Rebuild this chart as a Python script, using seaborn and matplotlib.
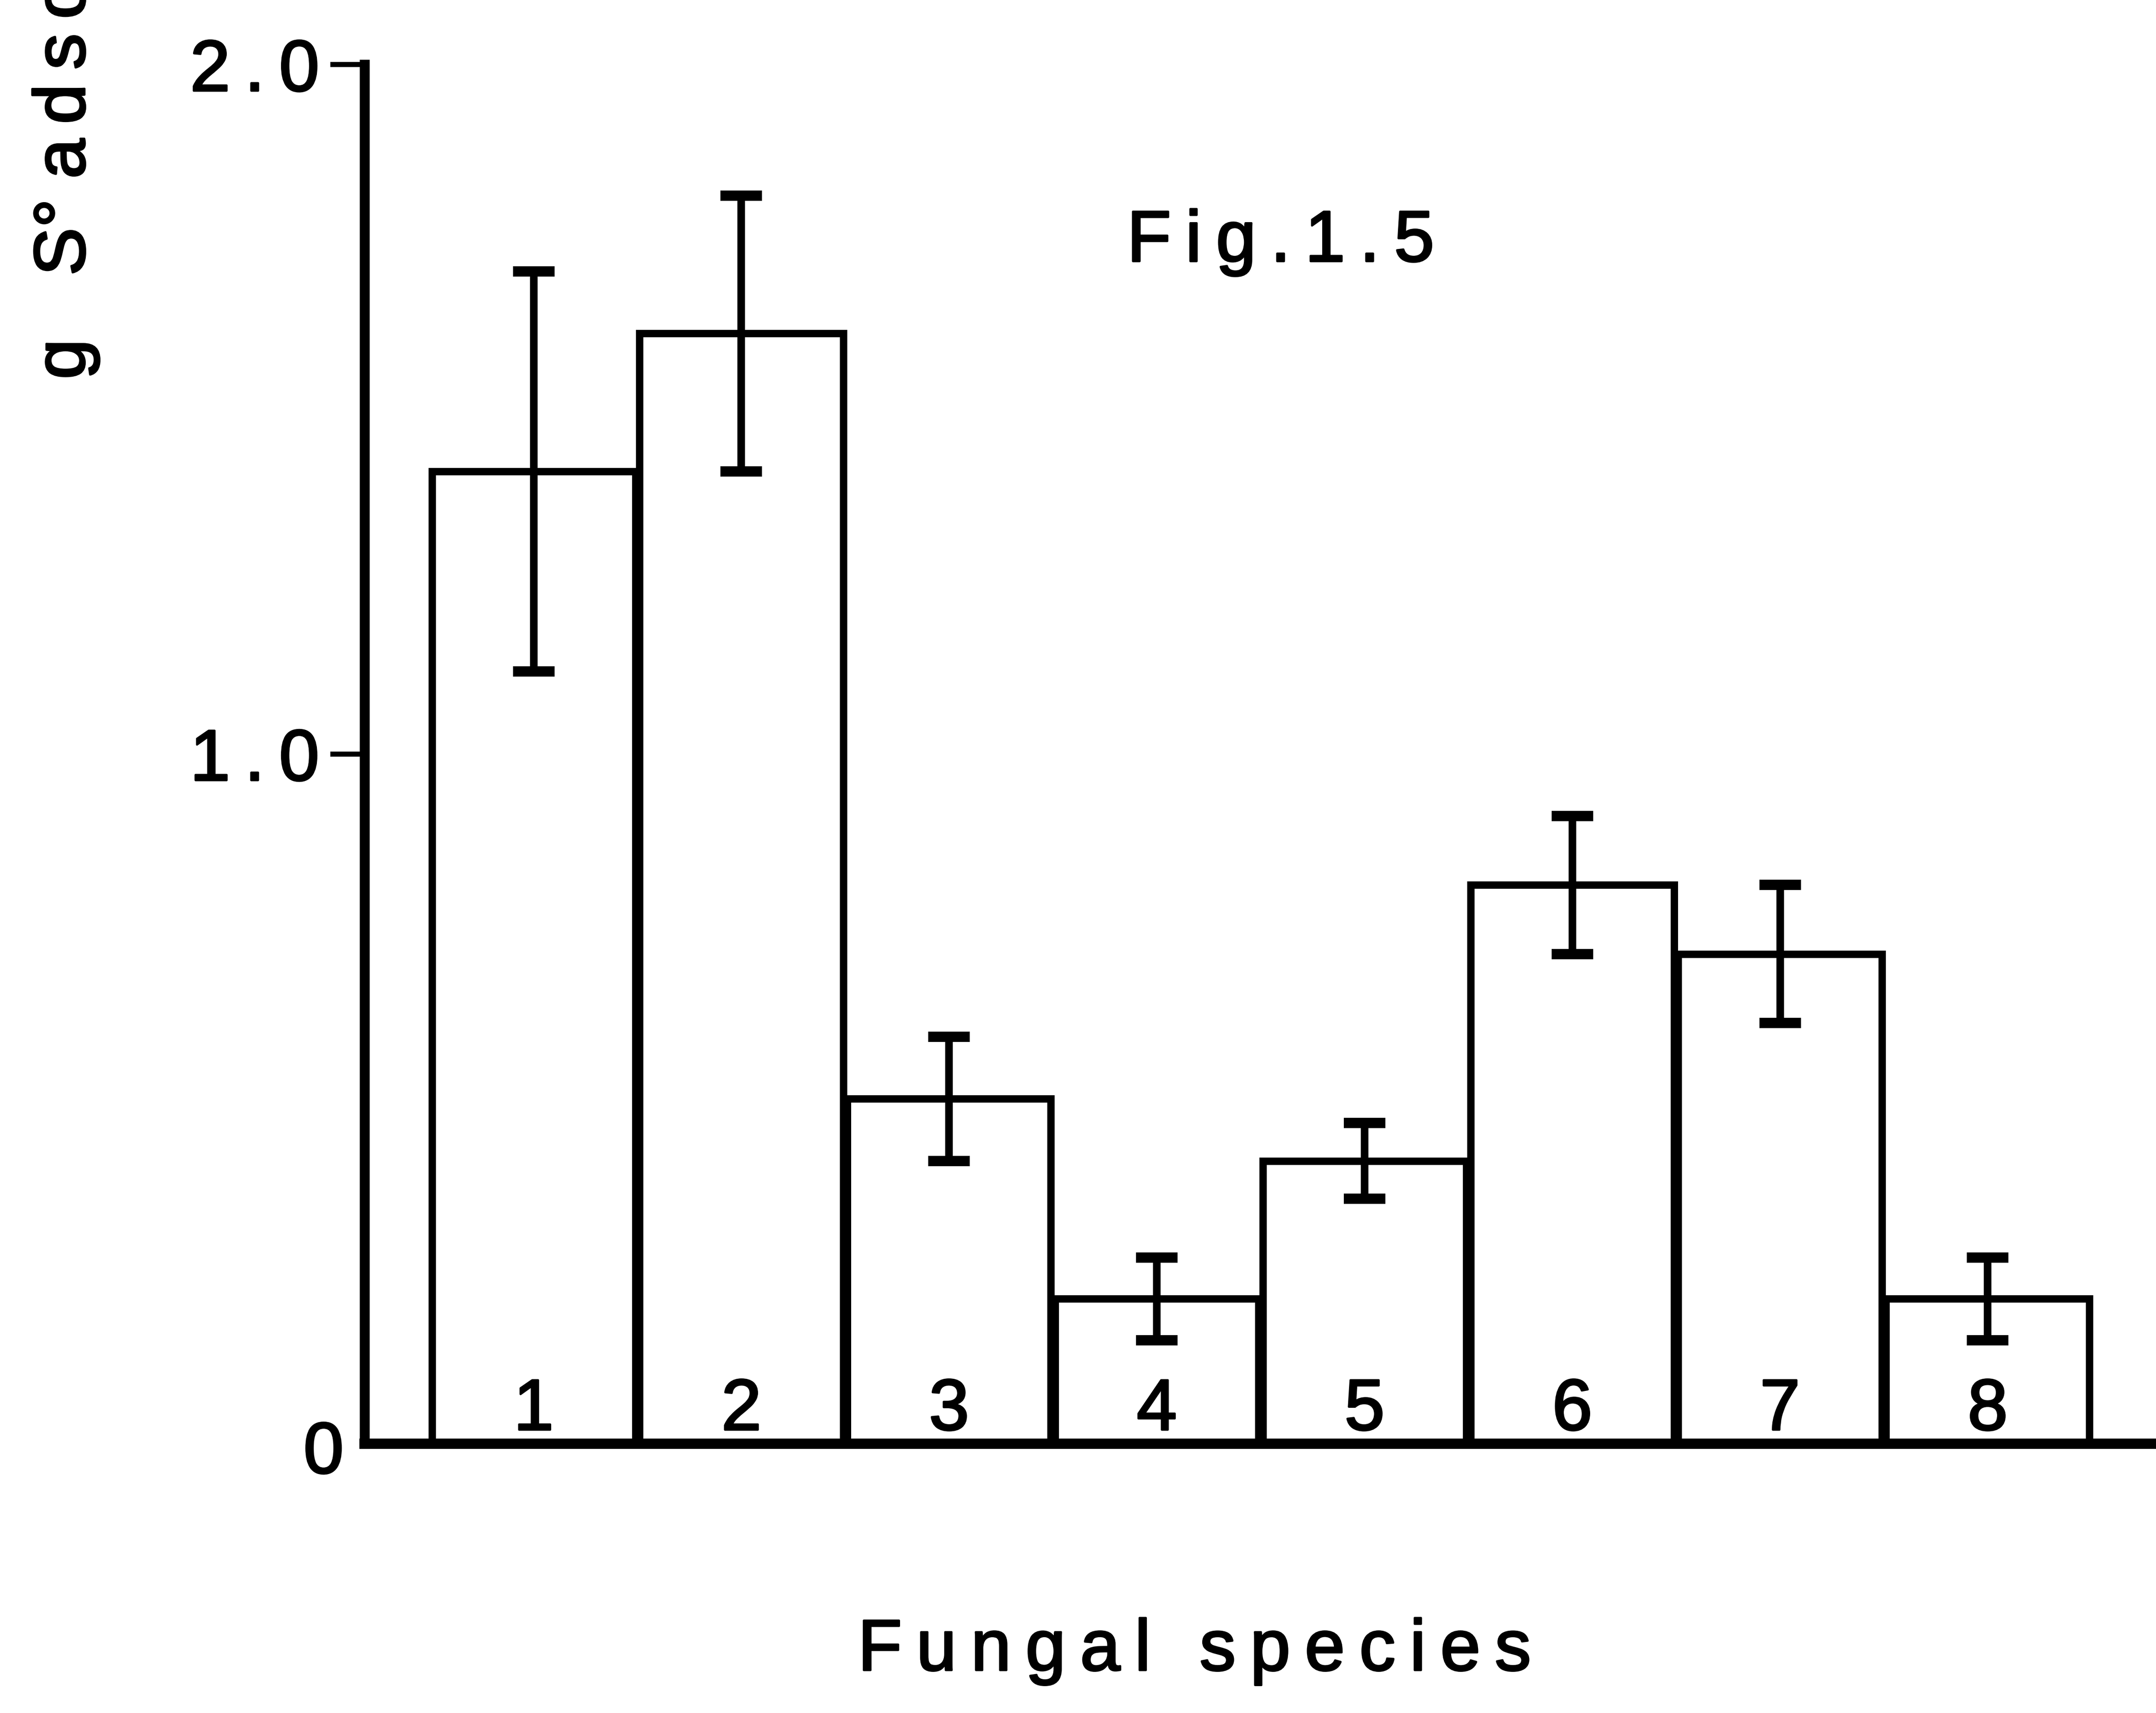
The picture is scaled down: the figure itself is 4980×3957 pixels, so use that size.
import numpy as np
import pandas as pd
import matplotlib
matplotlib.use("Agg")
import matplotlib.pyplot as plt
import matplotlib.patheffects as pe
import seaborn as sns

# Sulphur adsorbed by each fungal species (mean and error)
species = ["1", "2", "3", "4", "5", "6", "7", "8"]
sulfur_adsorbed = [1.41, 1.61, 0.50, 0.21, 0.41, 0.81, 0.71, 0.21]
sulfur_err = [0.29, 0.20, 0.09, 0.06, 0.055, 0.10, 0.10, 0.06]
y_ticks = [0, 1.0, 2.0]
y_tick_labels = ["0", "1.0", "2.0"]

sns.set_theme(style="white")
plt.rcParams["font.family"] = ["Liberation Sans", "DejaVu Sans"]
plt.rcParams["text.color"] = "black"
plt.rcParams["ytick.color"] = "black"

THIN = "\u2009"
# slightly heavier strokes for the lettering
HEAVY = [pe.withStroke(linewidth=1.1, foreground="black")]


def tracked(s):
    """Widen letter spacing the way the typewriter-style labels are set."""
    return THIN.join(s)


FS = 40

fig = plt.figure(figsize=(16.6, 13.19), dpi=300)
ax = fig.add_axes([0.169, 0.1573, 0.831, 0.805])

df = pd.DataFrame({"species": species, "S": sulfur_adsorbed})
sns.barplot(data=df, x="species", y="S", order=species, color="white",
            saturation=1, edgecolor="black", linewidth=4.1, width=0.98,
            errorbar=None, ax=ax)
ax.errorbar(np.arange(len(species)), sulfur_adsorbed, yerr=sulfur_err,
            fmt="none", ecolor="black", elinewidth=4.2, capsize=11.5,
            capthick=5.7, zorder=5)

# species numbers inside the bars
for i, s in enumerate(species):
    ax.text(i, 0.02, s, ha="center", va="baseline", fontsize=FS,
            color="black", path_effects=HEAVY)

ax.set_xlim(-0.815, 7.81)
ax.set_ylim(0, 2.0)
ax.set_xticks([])
ax.set_yticks(y_ticks, [""] + [tracked(t) for t in y_tick_labels[1:]])
ax.tick_params(axis="y", left=True, direction="out", length=19, width=2.8,
               pad=6, labelsize=FS, colors="black")
ax.yaxis.get_major_ticks()[0].tick1line.set_visible(False)
for lab in ax.get_yticklabels():
    lab.set_path_effects(HEAVY)
# the zero label sits a little lower, tucked against the corner
ax.annotate(y_tick_labels[0], xy=(0, y_ticks[0]),
            xycoords=("axes fraction", "data"), xytext=(-11.5, -6),
            textcoords="offset points", ha="right", va="center",
            fontsize=FS, color="black", path_effects=HEAVY)
ax.set_xlabel("")
ax.set_ylabel("")

for side in ("top", "right"):
    ax.spines[side].set_visible(False)
ax.spines["left"].set_linewidth(5.5)
ax.spines["bottom"].set_linewidth(5.7)
ax.spines["left"].set_color("black")
ax.spines["bottom"].set_color("black")

fig.text(0.594, 0.8475, tracked("Fig.1.5"), ha="center", va="baseline",
         fontsize=FS, color="black", path_effects=HEAVY)
fig.text(0.554, 0.025, tracked("Fungal species"), ha="center",
         va="baseline", fontsize=FS, color="black", path_effects=HEAVY)
ylabel = "g" + THIN + " " + THIN + THIN + "S°" + " " + tracked("adsorbed")
fig.text(0.0392, 0.7786, ylabel, rotation=90, rotation_mode="anchor",
         ha="left", va="baseline", fontsize=FS, color="black",
         path_effects=HEAVY)

fig.savefig("out.png", dpi=300, facecolor="white")
